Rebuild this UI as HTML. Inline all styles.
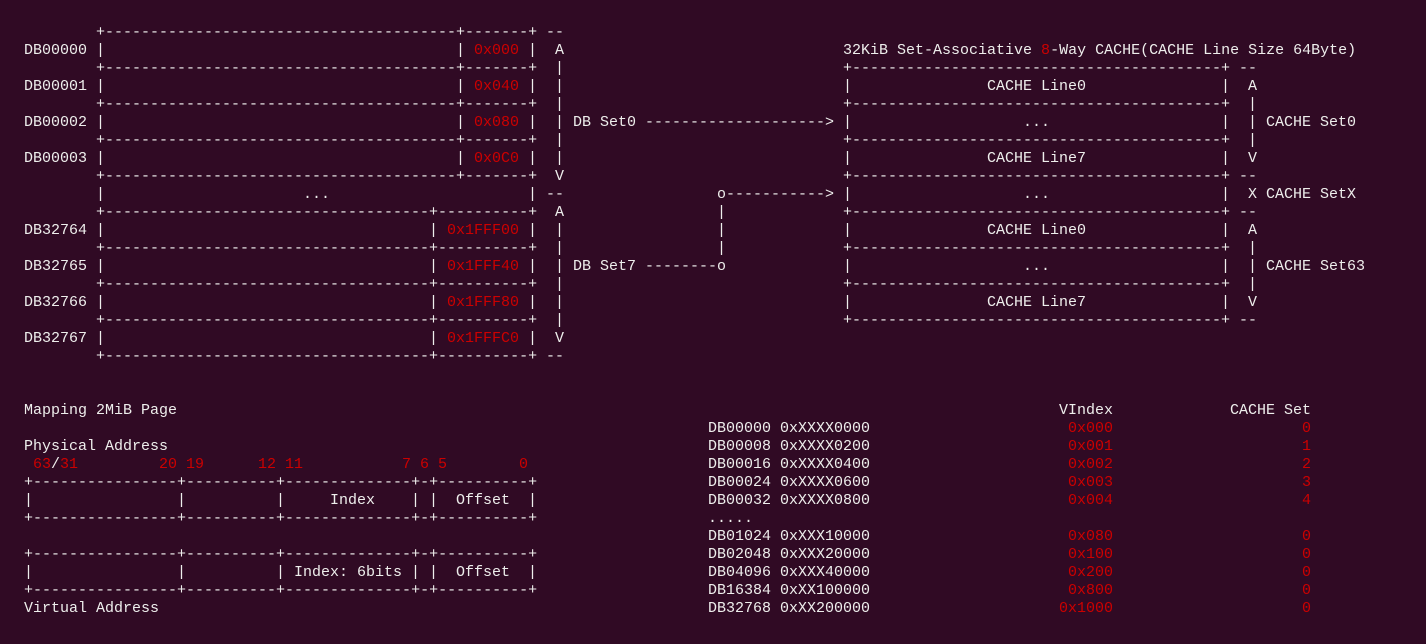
<!DOCTYPE html>
<html><head><meta charset="utf-8"><style>
html,body{margin:0;padding:0;background:#300a24;}
body{width:1426px;height:644px;position:relative;overflow:hidden;font-family:"Liberation Mono","DejaVu Sans Mono",monospace;font-size:15px;color:#eeeeec;}
#w{position:absolute;left:0;top:2px;width:1426px;height:642px;}
.t{position:absolute;white-space:pre;line-height:18px;}
.r{color:#cc0000;}
</style></head><body><div id="w">
<div class="t" style="left:96px;top:22px">+---------------------------------------+-------+</div><div class="t" style="left:546px;top:22px">--</div>
<div class="t" style="left:24px;top:40px">DB00000</div><div class="t" style="left:96px;top:40px">|</div><div class="t" style="left:456px;top:40px">|</div><div class="t r" style="left:474px;top:40px">0x000</div><div class="t" style="left:528px;top:40px">|</div><div class="t" style="left:555px;top:40px">A</div>
<div class="t" style="left:96px;top:58px">+---------------------------------------+-------+</div><div class="t" style="left:555px;top:58px">|</div>
<div class="t" style="left:24px;top:76px">DB00001</div><div class="t" style="left:96px;top:76px">|</div><div class="t" style="left:456px;top:76px">|</div><div class="t r" style="left:474px;top:76px">0x040</div><div class="t" style="left:528px;top:76px">|</div><div class="t" style="left:555px;top:76px">|</div>
<div class="t" style="left:96px;top:94px">+---------------------------------------+-------+</div><div class="t" style="left:555px;top:94px">|</div>
<div class="t" style="left:24px;top:112px">DB00002</div><div class="t" style="left:96px;top:112px">|</div><div class="t" style="left:456px;top:112px">|</div><div class="t r" style="left:474px;top:112px">0x080</div><div class="t" style="left:528px;top:112px">|</div><div class="t" style="left:555px;top:112px">| DB Set0 --------------------&gt;</div>
<div class="t" style="left:96px;top:130px">+---------------------------------------+-------+</div><div class="t" style="left:555px;top:130px">|</div>
<div class="t" style="left:24px;top:148px">DB00003</div><div class="t" style="left:96px;top:148px">|</div><div class="t" style="left:456px;top:148px">|</div><div class="t r" style="left:474px;top:148px">0x0C0</div><div class="t" style="left:528px;top:148px">|</div><div class="t" style="left:555px;top:148px">|</div>
<div class="t" style="left:96px;top:166px">+---------------------------------------+-------+</div><div class="t" style="left:555px;top:166px">V</div>
<div class="t" style="left:96px;top:184px">|</div><div class="t" style="left:303px;top:184px">...</div><div class="t" style="left:528px;top:184px">|</div><div class="t" style="left:546px;top:184px">--</div><div class="t" style="left:717px;top:184px">o-----------&gt;</div>
<div class="t" style="left:96px;top:202px">+------------------------------------+----------+</div><div class="t" style="left:555px;top:202px">A</div><div class="t" style="left:717px;top:202px">|</div>
<div class="t" style="left:24px;top:220px">DB32764</div><div class="t" style="left:96px;top:220px">|</div><div class="t" style="left:429px;top:220px">|</div><div class="t r" style="left:447px;top:220px">0x1FFF00</div><div class="t" style="left:528px;top:220px">|</div><div class="t" style="left:555px;top:220px">|</div><div class="t" style="left:717px;top:220px">|</div>
<div class="t" style="left:96px;top:238px">+------------------------------------+----------+</div><div class="t" style="left:555px;top:238px">|</div><div class="t" style="left:717px;top:238px">|</div>
<div class="t" style="left:24px;top:256px">DB32765</div><div class="t" style="left:96px;top:256px">|</div><div class="t" style="left:429px;top:256px">|</div><div class="t r" style="left:447px;top:256px">0x1FFF40</div><div class="t" style="left:528px;top:256px">|</div><div class="t" style="left:555px;top:256px">| DB Set7 --------o</div>
<div class="t" style="left:96px;top:274px">+------------------------------------+----------+</div><div class="t" style="left:555px;top:274px">|</div>
<div class="t" style="left:24px;top:292px">DB32766</div><div class="t" style="left:96px;top:292px">|</div><div class="t" style="left:429px;top:292px">|</div><div class="t r" style="left:447px;top:292px">0x1FFF80</div><div class="t" style="left:528px;top:292px">|</div><div class="t" style="left:555px;top:292px">|</div>
<div class="t" style="left:96px;top:310px">+------------------------------------+----------+</div><div class="t" style="left:555px;top:310px">|</div>
<div class="t" style="left:24px;top:328px">DB32767</div><div class="t" style="left:96px;top:328px">|</div><div class="t" style="left:429px;top:328px">|</div><div class="t r" style="left:447px;top:328px">0x1FFFC0</div><div class="t" style="left:528px;top:328px">|</div><div class="t" style="left:555px;top:328px">V</div>
<div class="t" style="left:96px;top:346px">+------------------------------------+----------+</div><div class="t" style="left:546px;top:346px">--</div>

<div class="t" style="left:843px;top:40px">32KiB Set-Associative <span class="r">8</span>-Way CACHE(CACHE Line Size 64Byte)</div>
<div class="t" style="left:843px;top:58px">+-----------------------------------------+</div><div class="t" style="left:1239px;top:58px">--</div>
<div class="t" style="left:843px;top:76px">|</div><div class="t" style="left:987px;top:76px">CACHE Line0</div><div class="t" style="left:1221px;top:76px">|</div><div class="t" style="left:1248px;top:76px">A</div>
<div class="t" style="left:843px;top:94px">+-----------------------------------------+</div><div class="t" style="left:1248px;top:94px">|</div>
<div class="t" style="left:843px;top:112px">|</div><div class="t" style="left:1023px;top:112px">...</div><div class="t" style="left:1221px;top:112px">|</div><div class="t" style="left:1248px;top:112px">| CACHE Set0</div>
<div class="t" style="left:843px;top:130px">+-----------------------------------------+</div><div class="t" style="left:1248px;top:130px">|</div>
<div class="t" style="left:843px;top:148px">|</div><div class="t" style="left:987px;top:148px">CACHE Line7</div><div class="t" style="left:1221px;top:148px">|</div><div class="t" style="left:1248px;top:148px">V</div>
<div class="t" style="left:843px;top:166px">+-----------------------------------------+</div><div class="t" style="left:1239px;top:166px">--</div>
<div class="t" style="left:843px;top:184px">|</div><div class="t" style="left:1023px;top:184px">...</div><div class="t" style="left:1221px;top:184px">|</div><div class="t" style="left:1248px;top:184px">X CACHE SetX</div>
<div class="t" style="left:843px;top:202px">+-----------------------------------------+</div><div class="t" style="left:1239px;top:202px">--</div>
<div class="t" style="left:843px;top:220px">|</div><div class="t" style="left:987px;top:220px">CACHE Line0</div><div class="t" style="left:1221px;top:220px">|</div><div class="t" style="left:1248px;top:220px">A</div>
<div class="t" style="left:843px;top:238px">+-----------------------------------------+</div><div class="t" style="left:1248px;top:238px">|</div>
<div class="t" style="left:843px;top:256px">|</div><div class="t" style="left:1023px;top:256px">...</div><div class="t" style="left:1221px;top:256px">|</div><div class="t" style="left:1248px;top:256px">| CACHE Set63</div>
<div class="t" style="left:843px;top:274px">+-----------------------------------------+</div><div class="t" style="left:1248px;top:274px">|</div>
<div class="t" style="left:843px;top:292px">|</div><div class="t" style="left:987px;top:292px">CACHE Line7</div><div class="t" style="left:1221px;top:292px">|</div><div class="t" style="left:1248px;top:292px">V</div>
<div class="t" style="left:843px;top:310px">+-----------------------------------------+</div><div class="t" style="left:1239px;top:310px">--</div>

<div class="t" style="left:24px;top:400px">Mapping 2MiB Page</div>
<div class="t" style="left:24px;top:436px">Physical Address</div>
<div class="t r" style="left:33px;top:454px">63</div><div class="t" style="left:51px;top:454px">/</div><div class="t r" style="left:60px;top:454px">31</div>
<div class="t r" style="left:159px;top:454px">20</div><div class="t r" style="left:186px;top:454px">19</div><div class="t r" style="left:258px;top:454px">12</div><div class="t r" style="left:285px;top:454px">11</div><div class="t r" style="left:402px;top:454px">7</div><div class="t r" style="left:420px;top:454px">6</div><div class="t r" style="left:438px;top:454px">5</div><div class="t r" style="left:519px;top:454px">0</div>
<div class="t" style="left:24px;top:472px">+----------------+----------+--------------+-+----------+</div>
<div class="t" style="left:24px;top:490px">|</div><div class="t" style="left:177px;top:490px">|</div><div class="t" style="left:276px;top:490px">|</div><div class="t" style="left:330px;top:490px">Index</div><div class="t" style="left:411px;top:490px">|</div><div class="t" style="left:429px;top:490px">|</div><div class="t" style="left:456px;top:490px">Offset</div><div class="t" style="left:528px;top:490px">|</div>
<div class="t" style="left:24px;top:508px">+----------------+----------+--------------+-+----------+</div>
<div class="t" style="left:24px;top:544px">+----------------+----------+--------------+-+----------+</div>
<div class="t" style="left:24px;top:562px">|</div><div class="t" style="left:177px;top:562px">|</div><div class="t" style="left:276px;top:562px">|</div><div class="t" style="left:294px;top:562px">Index: 6bits</div><div class="t" style="left:411px;top:562px">|</div><div class="t" style="left:429px;top:562px">|</div><div class="t" style="left:456px;top:562px">Offset</div><div class="t" style="left:528px;top:562px">|</div>
<div class="t" style="left:24px;top:580px">+----------------+----------+--------------+-+----------+</div>
<div class="t" style="left:24px;top:598px">Virtual Address</div>

<div class="t" style="left:1059px;top:400px">VIndex</div><div class="t" style="left:1230px;top:400px">CACHE Set</div>
<div class="t" style="left:708px;top:418px">DB00000 0xXXXX0000</div><div class="t r" style="left:1068px;top:418px">0x000</div><div class="t r" style="left:1302px;top:418px">0</div>
<div class="t" style="left:708px;top:436px">DB00008 0xXXXX0200</div><div class="t r" style="left:1068px;top:436px">0x001</div><div class="t r" style="left:1302px;top:436px">1</div>
<div class="t" style="left:708px;top:454px">DB00016 0xXXXX0400</div><div class="t r" style="left:1068px;top:454px">0x002</div><div class="t r" style="left:1302px;top:454px">2</div>
<div class="t" style="left:708px;top:472px">DB00024 0xXXXX0600</div><div class="t r" style="left:1068px;top:472px">0x003</div><div class="t r" style="left:1302px;top:472px">3</div>
<div class="t" style="left:708px;top:490px">DB00032 0xXXXX0800</div><div class="t r" style="left:1068px;top:490px">0x004</div><div class="t r" style="left:1302px;top:490px">4</div>
<div class="t" style="left:708px;top:508px">.....</div>
<div class="t" style="left:708px;top:526px">DB01024 0xXXX10000</div><div class="t r" style="left:1068px;top:526px">0x080</div><div class="t r" style="left:1302px;top:526px">0</div>
<div class="t" style="left:708px;top:544px">DB02048 0xXXX20000</div><div class="t r" style="left:1068px;top:544px">0x100</div><div class="t r" style="left:1302px;top:544px">0</div>
<div class="t" style="left:708px;top:562px">DB04096 0xXXX40000</div><div class="t r" style="left:1068px;top:562px">0x200</div><div class="t r" style="left:1302px;top:562px">0</div>
<div class="t" style="left:708px;top:580px">DB16384 0xXX100000</div><div class="t r" style="left:1068px;top:580px">0x800</div><div class="t r" style="left:1302px;top:580px">0</div>
<div class="t" style="left:708px;top:598px">DB32768 0xXX200000</div><div class="t r" style="left:1059px;top:598px">0x1000</div><div class="t r" style="left:1302px;top:598px">0</div>
</div></body></html>
